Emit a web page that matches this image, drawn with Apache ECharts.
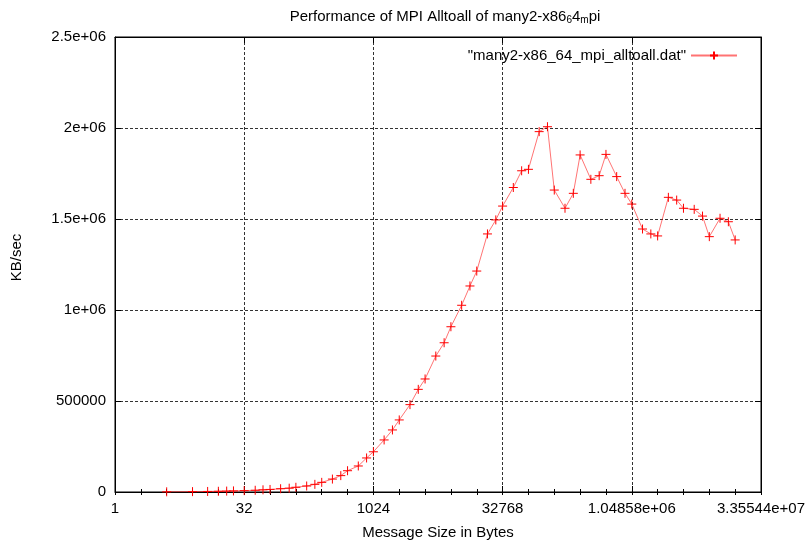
<!DOCTYPE html>
<html>
<head>
<meta charset="utf-8">
<script src="https://cdn.jsdelivr.net/npm/echarts@6/dist/echarts.min.js"></script>
<style>
  html, body { margin: 0; padding: 0; background: #fff; }
  #chart { width: 811px; height: 545px; }
</style>
</head>
<body>
<div id="chart"></div>
<script>
// message sizes (bytes)
const msgSizes = [
  4, 8, 12, 16, 20, 24,
  32, 43, 53, 64, 85, 107, 128, 171, 213, 256, 341, 427, 512, 683, 853,
  1024, 1365, 1707, 2048, 2731, 3413, 4096, 5461, 6827, 8192, 10923, 13653,
  16384, 21845, 27307, 32768, 43691, 54613, 65536, 87381, 109227,
  131072, 174763, 218453, 262144, 349525, 436907, 524288, 699051, 873813,
  1048576, 1398101, 1747627, 2097152, 2796203, 3495253, 4194304, 5592405, 6990507,
  8388608, 11184811, 13981013, 16777216
];
// bandwidth (KB/sec)
const bandwidth = [
  1000, 2000, 3000, 4000, 5000, 6000,
  7500, 9500, 12000, 14000, 18000, 21000, 26000, 33000, 42000, 53000, 71000, 90000, 117000, 143000, 187000,
  221000, 286000, 341000, 396000, 480000, 564000, 621000, 747000, 820000, 908000, 1026000, 1132000,
  1214000, 1418000, 1495000, 1571000, 1673000, 1765000, 1773000, 1980000, 2007000,
  1659000, 1559000, 1641000, 1852000, 1718000, 1738000, 1855000, 1733000, 1641000,
  1582000, 1445000, 1418000, 1407000, 1619000, 1604000, 1559000, 1553000, 1516000,
  1403000, 1504000, 1485000, 1385000
];
const seriesName = '"many2-x86_64_mpi_alltoall.dat"';

// gnuplot style %g
function fmtG(v) {
  if (v === 0) return '0';
  const e = Math.floor(Math.log10(Math.abs(v)) + 1e-9);
  if (e < -4 || e >= 6) {
    const parts = v.toExponential(5).split('e');
    const m = parts[0].replace(/\.?0+$/, '');
    let digits = parts[1].slice(1);
    if (digits.length < 2) digits = '0' + digits;
    return m + 'e' + parts[1][0] + digits;
  }
  return String(parseFloat(v.toPrecision(6)));
}

const chart = echarts.init(document.getElementById('chart'));
const FONT = 'Liberation Sans, Arial, sans-serif';
const FS = 15;
const plusSymbol = 'path://M0,5 L10,5 M5,0 L5,10';

const logAxisBase = {
  type: 'log',
  logBase: 2,
  min: 1,
  max: 33554432,
  interval: 5,
  axisLine: { show: true, onZero: false, lineStyle: { color: '#000', width: 1 } },
  axisTick: { show: true, inside: true, length: 6, lineStyle: { color: '#000' } }
};
// minor ticks: one per octave
const minorAxisBase = Object.assign({}, logAxisBase, {
  interval: 1,
  axisLine: { show: false },
  axisTick: { show: true, inside: true, length: 3, lineStyle: { color: '#000' } },
  axisLabel: { show: false },
  splitLine: { show: false }
});
const valAxisBase = {
  type: 'value',
  min: 0,
  max: 2500000,
  interval: 500000,
  axisLine: { show: true, onZero: false, lineStyle: { color: '#000', width: 1 } },
  axisTick: { show: true, inside: true, length: 6, lineStyle: { color: '#000' } }
};

chart.setOption({
  backgroundColor: '#fff',
  animation: false,
  title: {
    text: 'Performance of MPI Alltoall of many2-x86{sub|6}4{sub|m}pi',
    left: 440,
    top: 3,
    textAlign: 'center',
    textStyle: {
      fontFamily: FONT, fontSize: FS, fontWeight: 'normal', color: '#000',
      rich: { sub: { fontSize: 10, verticalAlign: 'bottom', padding: [7, 0, 0, 0], fontFamily: FONT, color: '#000' } }
    }
  },
  legend: {
    right: 68,
    top: 43,
    align: 'right',
    itemWidth: 46,
    itemHeight: 10,
    textStyle: { fontFamily: FONT, fontSize: FS, color: '#000' },
    data: [{ name: seriesName }]
  },
  grid: { left: 115, right: 50, top: 37, bottom: 53, show: true, borderColor: '#000', borderWidth: 1 },
  xAxis: [
    Object.assign({}, logAxisBase, {
      position: 'bottom',
      name: 'Message Size in Bytes',
      nameLocation: 'middle',
      nameGap: 33,
      nameTextStyle: { fontFamily: FONT, fontSize: FS, color: '#000' },
      axisLabel: { show: true, margin: 9, fontFamily: FONT, fontSize: FS, color: '#000', formatter: fmtG },
      splitLine: { show: true, lineStyle: { color: '#333', type: [3, 2], width: 1 } }
    }),
    Object.assign({}, logAxisBase, {
      position: 'top',
      axisLabel: { show: false },
      splitLine: { show: false }
    }),
    Object.assign({}, minorAxisBase, { position: 'bottom' }),
    Object.assign({}, minorAxisBase, { position: 'top' })
  ],
  yAxis: [
    Object.assign({}, valAxisBase, {
      position: 'left',
      name: 'KB/sec',
      nameLocation: 'middle',
      nameGap: 91,
      nameTextStyle: { fontFamily: FONT, fontSize: FS, color: '#000', padding: [0, 0, 0, 14] },
      axisLabel: { show: true, margin: 9, fontFamily: FONT, fontSize: FS, color: '#000', formatter: fmtG },
      splitLine: { show: true, lineStyle: { color: '#333', type: [3, 2], width: 1 } }
    }),
    Object.assign({}, valAxisBase, {
      position: 'right',
      axisLabel: { show: false },
      splitLine: { show: false }
    })
  ],
  series: [{
    name: seriesName,
    type: 'line',
    xAxisIndex: 0,
    yAxisIndex: 0,
    data: msgSizes.map((s, i) => [s, bandwidth[i]]),
    symbol: plusSymbol,
    symbolSize: 9,
    showAllSymbol: true,
    lineStyle: { color: 'rgba(255,0,0,0.55)', width: 1 },
    itemStyle: { color: 'none', borderColor: '#ff0000', borderWidth: 1 }
  }]
});
</script>
</body>
</html>
